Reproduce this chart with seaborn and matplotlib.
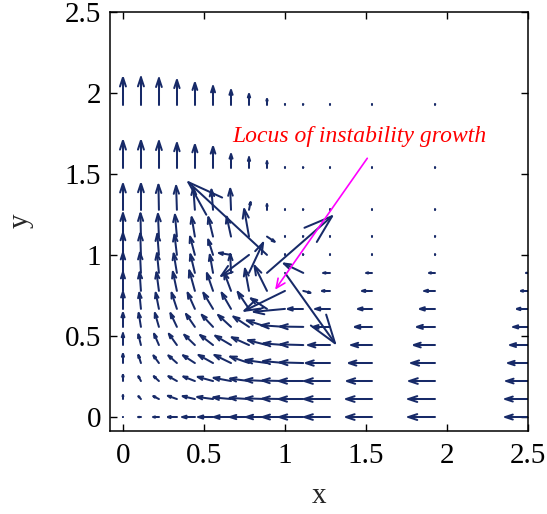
import numpy as np
import pandas as pd
import matplotlib
matplotlib.use("Agg")
import matplotlib.pyplot as plt
from matplotlib.collections import LineCollection
import seaborn as sns

# Grid nodes of the vector field
x_nodes = [0.0, 0.111, 0.222, 0.333, 0.444, 0.556, 0.667, 0.778, 0.889, 1.0,
           1.113, 1.278, 1.537, 1.927, 2.5]
y_nodes = [0.0, 0.111, 0.222, 0.333, 0.444, 0.556, 0.667, 0.778, 0.889, 1.0,
           1.113, 1.278, 1.537, 1.927]

# x-components, one list per row of y_nodes (bottom to top)
u_rows = [
    [0, -0.016, -0.035, -0.058, -0.077, -0.090, -0.105, -0.117, -0.128, -0.138, -0.148, -0.158, -0.160, -0.165, -0.140],
    [0, -0.016, -0.035, -0.056, -0.076, -0.098, -0.110, -0.120, -0.132, -0.140, -0.150, -0.160, -0.160, -0.165, -0.140],
    [0, -0.016, -0.032, -0.053, -0.072, -0.095, -0.108, -0.117, -0.134, -0.140, -0.150, -0.158, -0.155, -0.160, -0.133],
    [0, -0.016, -0.034, -0.053, -0.074, -0.090, -0.103, -0.117, -0.134, -0.136, -0.145, -0.150, -0.144, -0.148, -0.123],
    [0, -0.016, -0.030, -0.050, -0.066, -0.080, -0.098, -0.107, -0.118, -0.134, -0.142, -0.135, -0.127, -0.133, -0.110],
    [0, -0.014, -0.025, -0.040, -0.055, -0.070, -0.080, -0.097, -0.125, -0.148, -0.143, -0.105, -0.107, -0.113, -0.090],
    [0, -0.010, -0.020, -0.033, -0.045, -0.060, -0.058, -0.070, -0.100, -0.193, -0.097, -0.090, -0.087, -0.095, -0.070],
    [0, -0.008, -0.015, -0.025, -0.035, -0.038, -0.042, -0.025, -0.077, -0.251, 0.045, -0.051, -0.062, -0.066, -0.045],
    [0, -0.006, -0.012, -0.020, -0.028, -0.020, -0.005, 0.087, 0.402, 0.309, -0.120, -0.041, -0.035, -0.038, -0.013],
    [0, -0.004, -0.010, -0.015, -0.030, -0.030, -0.075, -0.172, -0.486, 0, 0, 0, 0, 0, 0],
    [0, -0.003, -0.006, -0.012, -0.020, -0.029, -0.027, -0.030, 0.048, 0, 0, 0, 0, 0, 0],
    [0, 0, -0.003, -0.005, -0.010, -0.010, -0.005, 0.010, 0, 0, 0, 0, 0, 0, 0],
    [0, 0, 0, 0, 0, 0, 0, 0, 0, 0, 0, 0, 0, 0, 0],
    [0, 0, 0, 0, 0, 0, 0, 0, 0, 0, 0, 0, 0, 0, 0],
]

# y-components, one list per row of y_nodes (bottom to top)
v_rows = [
    [0.003, 0, 0, 0, 0, 0, 0, 0, 0, 0, 0, 0, 0, 0, 0],
    [0.025, 0.018, 0.018, 0.020, 0.018, 0.013, 0.010, 0.007, 0.004, 0.002, 0, 0, 0, 0, 0],
    [0.040, 0.030, 0.030, 0.030, 0.028, 0.026, 0.020, 0.015, 0.006, 0.003, 0, 0, 0, 0, 0],
    [0.058, 0.050, 0.047, 0.047, 0.048, 0.050, 0.050, 0.040, 0.018, 0.012, 0.004, 0, 0, 0, 0],
    [0.072, 0.066, 0.070, 0.070, 0.064, 0.062, 0.058, 0.048, 0.030, 0.010, 0.004, 0, 0, 0, 0],
    [0.088, 0.086, 0.086, 0.085, 0.080, 0.075, 0.074, 0.064, 0.040, 0.010, 0.002, 0, 0, 0, 0],
    [0.105, 0.100, 0.100, 0.100, 0.100, 0.100, 0.100, 0.105, 0.065, -0.018, 0, 0, 0, 0, 0],
    [0.115, 0.115, 0.115, 0.118, 0.127, 0.110, 0.112, 0.137, 0.155, -0.123, -0.012, 0, 0, 0, 0],
    [0.124, 0.125, 0.122, 0.120, 0.115, 0.112, 0.117, 0.186, 0.350, -0.434, 0.058, 0, 0, 0, 0],
    [0.135, 0.133, 0.130, 0.125, 0.113, 0.095, 0.012, -0.130, 0.449, 0.004, 0.004, 0.004, 0.004, 0.004, 0],
    [0.144, 0.144, 0.140, 0.135, 0.120, 0.120, 0.123, 0.170, -0.032, 0.004, 0.004, 0.004, 0.004, 0.004, 0],
    [0.160, 0.162, 0.155, 0.148, 0.138, 0.125, 0.130, 0.048, 0.035, 0.004, 0.004, 0.004, 0.004, 0.004, 0],
    [0.168, 0.168, 0.164, 0.153, 0.143, 0.131, 0.085, 0.064, 0.040, 0.005, 0.004, 0.004, 0.004, 0.004, 0],
    [0.167, 0.168, 0.162, 0.152, 0.135, 0.113, 0.090, 0.066, 0.036, 0.005, 0.004, 0.004, 0.004, 0.004, 0],
]

tick_values = [0, 0.5, 1, 1.5, 2, 2.5]
tick_labels = ["0", "0.5", "1", "1.5", "2", "2.5"]
annotation_text = "Locus of instability growth"
annotation_tail = (1.508, 1.596)
annotation_head = (0.939, 0.785)

sns.set_theme(style="ticks")
plt.rcParams["font.family"] = ["Liberation Serif", "DejaVu Serif"]

X, Y = np.meshgrid(x_nodes, y_nodes)
field = pd.DataFrame({
    "x": X.ravel(), "y": Y.ravel(),
    "u": np.asarray(u_rows, dtype=float).ravel(),
    "v": np.asarray(v_rows, dtype=float).ravel(),
})

# quiver-style arrows: shaft plus two head strokes (head = 0.33 of length)
alpha, beta = 0.33, 0.33
field["tx"] = field.x + field.u
field["ty"] = field.y + field.v
field["h1x"] = field.tx - alpha * (field.u + beta * field.v)
field["h1y"] = field.ty - alpha * (field.v - beta * field.u)
field["h2x"] = field.tx - alpha * (field.u - beta * field.v)
field["h2y"] = field.ty - alpha * (field.v + beta * field.u)

shafts = [[(r.x, r.y), (r.tx, r.ty)] for r in field.itertuples()]
heads = [[(r.h1x, r.h1y), (r.tx, r.ty), (r.h2x, r.h2y)] for r in field.itertuples()]

W, H = 547, 514
fig = plt.figure(figsize=(W / 100, H / 100), dpi=100)
ax = fig.add_axes([109.5 / W, 1 - 430.5 / H, (528 - 109.5) / W, (430.5 - 11.7) / H])

arrow_color = "#172a68"
ax.add_collection(LineCollection(shafts, colors=arrow_color, linewidths=1.45,
                                 capstyle="round"))
ax.add_collection(LineCollection(heads, colors=arrow_color, linewidths=1.45,
                                 capstyle="round", joinstyle="miter"))

ax.annotate("", xy=annotation_head, xytext=annotation_tail,
            arrowprops=dict(arrowstyle="->,head_length=0.55,head_width=0.25",
                            color="#ff00ff", lw=1.2, shrinkA=0, shrinkB=0))
ax.text(0.672, 1.695, annotation_text, color="#ff0000", fontstyle="italic",
        fontsize=17, ha="left", va="baseline")

ax.set_xlim(-0.083, 2.5)
ax.set_ylim(-0.083, 2.5)
ax.set_xticks(tick_values)
ax.set_xticklabels(tick_labels)
ax.set_yticks(tick_values)
ax.set_yticklabels(tick_labels)
ax.tick_params(direction="in", length=5, width=1, colors="black",
               top=True, right=True, labelsize=21)
ax.tick_params(axis="x", pad=9)
ax.tick_params(axis="y", pad=6)
for s in ax.spines.values():
    s.set_linewidth(1.1)
    s.set_color("black")
ax.set_xlabel("x", fontsize=21, labelpad=10)
ax.set_ylabel("y", fontsize=21, labelpad=22)
ax.set_facecolor("white")
fig.patch.set_facecolor("white")

fig.savefig("out.png", dpi=100)
